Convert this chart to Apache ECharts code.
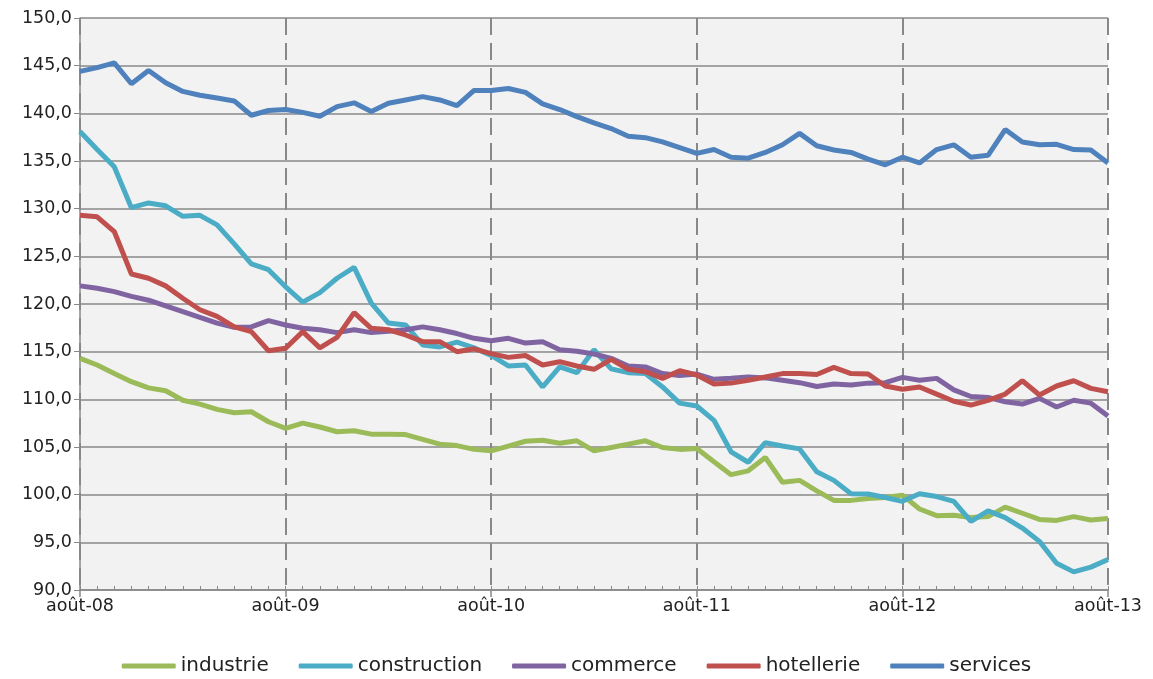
<!DOCTYPE html>
<html><head><meta charset="utf-8">
<script src="https://cdn.jsdelivr.net/npm/echarts@6/dist/echarts.min.js"></script>
<style>html,body{margin:0;padding:0;background:#fff}#c{width:1153px;height:679px}</style>
</head><body><div id="c"></div>
<script>
const monthNames = ['août','sept','oct','nov','déc','janv','févr','mars','avr','mai','juin','juil'];
const startYear = 8;
const nPoints = 61;
const categories = [];
for (let i = 0; i < nPoints; i++) {
  const m = i % 12;
  const y = startYear + Math.floor((i + 7) / 12);
  categories.push(monthNames[m] + '-' + String(y).padStart(2, '0'));
}
const seriesNames = ['industrie','construction','commerce','hotellerie','services'];
const industrie = [114.3,113.6,112.7,111.85,111.2,110.9,109.9,109.5,108.95,108.6,
  108.7,107.65,106.95,107.5,107.1,106.6,106.7,106.35,106.35,106.3,
  105.8,105.3,105.15,104.75,104.6,105.1,105.6,105.7,105.4,105.65,
  104.6,104.95,105.3,105.65,104.95,104.75,104.85,103.45,102.1,102.5,
  103.9,101.3,101.5,100.4,99.4,99.4,99.6,99.7,99.95,98.5,
  97.8,97.85,97.6,97.7,98.7,98.05,97.4,97.3,97.7,97.35,
  97.5];
const construction = [138.1,136.2,134.4,130.1,130.6,130.3,129.2,129.3,128.3,126.3,
  124.2,123.6,121.8,120.2,121.2,122.7,123.85,120.1,118.0,117.8,
  115.7,115.5,116.0,115.4,114.6,113.5,113.6,111.3,113.4,112.8,
  115.2,113.2,112.8,112.7,111.3,109.6,109.3,107.8,104.5,103.4,
  105.45,105.1,104.8,102.4,101.5,100.1,100.07,99.7,99.3,100.1,
  99.8,99.3,97.2,98.3,97.6,96.5,95.1,92.8,91.9,92.4,
  93.2];
const commerce = [121.9,121.65,121.3,120.8,120.4,119.8,119.2,118.6,118.0,117.55,
  117.6,118.25,117.8,117.45,117.3,117.0,117.3,117.0,117.15,117.3,
  117.6,117.3,116.9,116.4,116.15,116.4,115.9,116.05,115.2,115.05,
  114.75,114.3,113.5,113.4,112.7,112.5,112.65,112.1,112.2,112.35,
  112.25,112.0,111.75,111.35,111.6,111.5,111.7,111.75,112.3,112.0,
  112.2,111.0,110.3,110.2,109.75,109.5,110.1,109.2,109.9,109.6,
  108.25];
const hotellerie = [129.3,129.15,127.6,123.15,122.7,121.9,120.6,119.4,118.7,117.6,
  117.1,115.1,115.35,117.1,115.4,116.5,119.1,117.45,117.3,116.75,
  116.05,116.05,115.0,115.3,114.8,114.4,114.6,113.6,113.95,113.5,
  113.15,114.2,113.15,112.9,112.2,113.0,112.55,111.6,111.7,112.0,
  112.35,112.7,112.7,112.6,113.35,112.7,112.65,111.4,111.05,111.3,
  110.55,109.8,109.4,109.9,110.55,111.95,110.45,111.4,111.95,111.15,
  110.8];
const services = [144.4,144.8,145.3,143.1,144.5,143.2,142.3,141.9,141.6,141.3,
  139.8,140.3,140.4,140.1,139.7,140.7,141.1,140.2,141.05,141.4,
  141.75,141.4,140.8,142.4,142.4,142.6,142.2,141.0,140.4,139.65,
  139.0,138.4,137.6,137.45,137.0,136.4,135.8,136.2,135.4,135.3,
  135.9,136.7,137.9,136.6,136.15,135.9,135.2,134.6,135.4,134.8,
  136.2,136.7,135.4,135.6,138.3,137.0,136.7,136.75,136.2,136.15,
  134.8];
const yMin = 90, yMax = 150, yStep = 5;
const colors = ['#9BBB59','#4BACC6','#8064A2','#C0504D','#4F81BD'];
const allData = [industrie, construction, commerce, hotellerie, services];

const chart = echarts.init(document.getElementById('c'));
const axisGrey = '#888888';
chart.setOption({
  animation: false,
  grid: { left: 80, right: 45, top: 18, bottom: 89, show: true, backgroundColor: '#F2F2F2', borderWidth: 0 },
  legend: {
    bottom: -2, left: 'center', icon: 'roundRect', itemWidth: 54, itemHeight: 5, itemGap: 30,
    textStyle: { fontFamily: 'DejaVu Sans', fontSize: 20, color: '#222' },
    data: seriesNames
  },
  xAxis: [{
    type: 'category', data: categories, boundaryGap: false,
    axisLine: { lineStyle: { color: axisGrey, width: 1.5 } },
    axisTick: { show: true, interval: 0, inside: true, length: 4, lineStyle: { color: axisGrey } },
    axisLabel: { show: false },
    splitLine: { show: true, interval: 11, lineStyle: { color: axisGrey, width: 2, type: [17, 8] } }
  }, {
    type: 'category', data: categories, boundaryGap: false, position: 'bottom',
    axisLine: { show: false },
    axisTick: { show: true, interval: 11, length: 7, lineStyle: { color: axisGrey, width: 1.5 } },
    axisLabel: { show: true, interval: 11, margin: 7, fontFamily: 'DejaVu Sans', fontSize: 17.5, color: '#222' },
    splitLine: { show: false }
  }],
  yAxis: {
    type: 'value', min: yMin, max: yMax, interval: yStep,
    axisLine: { show: true, lineStyle: { color: axisGrey, width: 1.5 } },
    axisTick: { show: true, length: 6, lineStyle: { color: axisGrey } },
    axisLabel: { fontFamily: 'DejaVu Sans', fontSize: 17.5, color: '#222', margin: 8,
      formatter: v => v.toFixed(1).replace('.', ',') },
    splitLine: { lineStyle: { color: axisGrey, width: 1.5 } }
  },
  series: seriesNames.map((n, i) => ({
    name: n, type: 'line', data: allData[i], xAxisIndex: 0,
    showSymbol: false, symbol: 'none',
    lineStyle: { width: 5, color: colors[i] }, itemStyle: { color: colors[i] }
  }))
});
</script></body></html>
